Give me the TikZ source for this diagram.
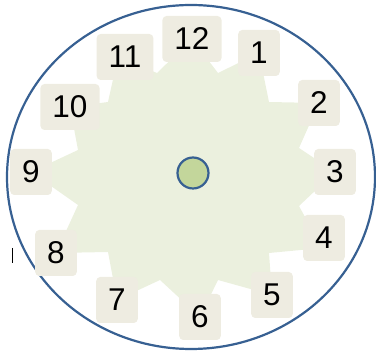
\documentclass[tikz,border=0pt]{standalone}
\usepackage{fontspec}
\setmainfont{Liberation Sans}
\definecolor{clockline}{RGB}{55, 96, 146}
\definecolor{gearfill}{RGB}{235, 240, 222}
\definecolor{hourfill}{RGB}{238, 236, 225}
\definecolor{hubfill}{RGB}{195, 214, 155}

\begin{document}
\begin{tikzpicture}[
  x=1pt, y=-1pt,
  hour/.style = {rectangle, rounded corners=4pt, fill=hourfill,
                 minimum width=33pt, minimum height=46pt,
                 inner xsep=12pt, font=\fontsize{31.5}{31.5}\selectfont},
  rim/.style  = {draw=clockline, line width=2.2pt},
  hub/.style  = {circle, draw=clockline, fill=hubfill,
                 line width=2.2pt, minimum size=31pt, inner sep=0pt},
]
\useasboundingbox (0,0) rectangle (376,352);

%% Clock face
\draw[rim] (191,177) ellipse [x radius=184, y radius=172];

%% Gear
\fill[gearfill] (192,39) -- (218,73) -- (259,53) -- (269,102)
  -- (319,103) -- (299,148) -- (335,172) -- (299,206)
  -- (322,248) -- (269,253) -- (272,295) -- (218,280)
  -- (200,317) -- (160,280) -- (117,300) -- (108,252)
  -- (56,253) -- (78,205) -- (31,172) -- (78,150)
  -- (70,107) -- (108,102) -- (118,57) -- (157,73) -- cycle;

%% Hour labels
\foreach \n/\x/\y in {12/192/39, 1/259/53, 2/319/103, 3/335/172,
                      4/324/238, 5/272/295, 6/200/317, 7/117/300,
                      8/56/253, 9/31/172, 10/70/107, 11/125/57}
  \node[hour] (h\n) at (\x,\y) {\n};

%% Hub
\node[hub] (hub) at (193,173) {};

%% Stray mark
\draw[line width=1.5pt] (12.5,248) -- (12.5,263);

\end{tikzpicture}
\end{document}
